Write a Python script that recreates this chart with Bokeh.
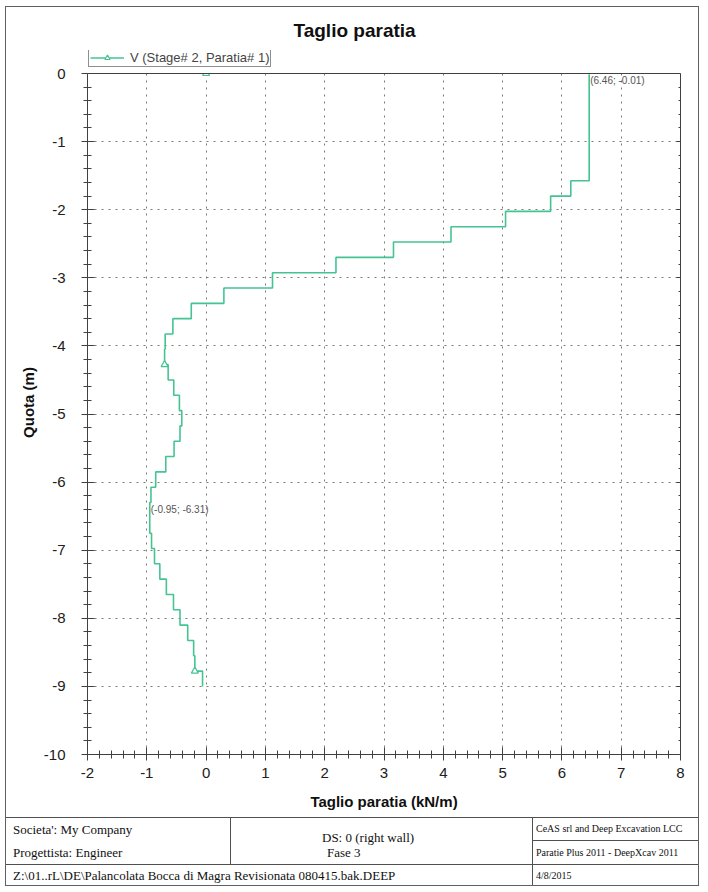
from bokeh.plotting import figure
from bokeh.layouts import column
from bokeh.models import (Range1d, LinearAxis, SingleIntervalTicker, Label,
                          Legend, LegendItem, PrintfTickFormatter, Div, Span,
                          BoxAnnotation)
from bokeh.embed import file_html
from bokeh.resources import INLINE

# ---------------- data ----------------
# depth boundaries of each constant-shear step (m)
quota_nodes = [-0.01, -1.575, -1.80, -2.025, -2.25, -2.475, -2.70, -2.925, -3.15,
               -3.375, -3.60, -3.825, -4.05, -4.275, -4.50, -4.725, -4.95, -5.175,
               -5.40, -5.625, -5.85, -6.075, -6.30, -6.525, -6.75, -6.975, -7.20,
               -7.425, -7.65, -7.875, -8.10, -8.325, -8.55, -8.775, -9.00]
# shear value in each step (kN/m)
taglio = [6.46, 6.15, 5.81, 5.05, 4.13, 3.16, 2.19, 1.12, 0.30,
          -0.25, -0.56, -0.69, -0.70, -0.64, -0.545, -0.45, -0.41, -0.44,
          -0.54, -0.68, -0.85, -0.93, -0.95, -0.95, -0.92, -0.87, -0.78,
          -0.67, -0.55, -0.44, -0.31, -0.21, -0.19, -0.06]
marker_taglio = [0.0, -0.70, -0.19]
marker_quota = [0.0, -4.275, -8.775]
min_label_quota = -6.31

x_ticks = list(range(-2, 9))
y_ticks = list(range(-10, 1))

title_text = "Taglio paratia"
x_label = "Taglio paratia (kN/m)"
y_label = "Quota (m)"
series_name = "V (Stage# 2, Paratia# 1)"

societa = "Societa': My Company"
progettista = "Progettista: Engineer"
ds_text = "DS: 0 (right wall)"
fase_text = "Fase 3"
ceas_text = "CeAS srl and Deep Excavation LCC"
paratie_text = "Paratie Plus 2011 - DeepXcav 2011"
path_text = "Z:\\01..rL\\DE\\Palancolata Bocca di Magra Revisionata 080415.bak.DEEP"
date_text = "4/8/2015"

SANS = "Liberation Sans"
SERIF = "Liberation Serif"
GREEN = "#45c493"
DARK = "#404040"

# ---------------- chart figure ----------------
# the frame is extended upward a little so that the legend can sit above y=0
AW, AH = 692, 810
MB_TOP, MB_BOT, MB_L, MB_R = 43, 63, 81, 18
PX_PER_M = 68.1
LEGEND_ROOM = 23  # px between the top of the frame and the y=0 edge
y_top = y_ticks[-1] + LEGEND_ROOM / PX_PER_M

p = figure(width=AW, height=AH, output_backend="svg", toolbar_location=None,
           x_range=Range1d(x_ticks[0], x_ticks[-1]), y_range=Range1d(y_ticks[0], y_top),
           min_border_left=MB_L, min_border_right=MB_R,
           min_border_top=MB_TOP, min_border_bottom=MB_BOT,
           x_axis_label=x_label, y_axis_label=y_label)
p.background_fill_color = "white"
p.border_fill_color = "white"
p.outline_line_color = None

def style_axis(ax, labels=True, tin=7, tout=6, min_in=4, min_out=4):
    ax.ticker = SingleIntervalTicker(interval=1, num_minor_ticks=5)
    ax.formatter = PrintfTickFormatter(format="%d")
    ax.axis_line_color = DARK
    ax.major_tick_line_color = DARK
    ax.minor_tick_line_color = DARK
    ax.major_tick_in = tin
    ax.major_tick_out = tout
    ax.minor_tick_in = min_in
    ax.minor_tick_out = min_out
    ax.major_label_text_font = SANS
    ax.major_label_text_font_size = "15px"
    ax.major_label_text_color = "#202020" if labels else None
    ax.axis_label_text_font = SANS
    ax.axis_label_text_font_size = "15px"
    ax.axis_label_text_font_style = "bold"
    ax.axis_label_text_color = "#101010"

xa = p.xaxis[0]
ya = p.yaxis[0]
style_axis(xa)
style_axis(ya)
ya.bounds = (y_ticks[0], y_ticks[-1])
xa.major_label_standoff = 7
xa.axis_label_standoff = 12
ya.major_label_standoff = 16
ya.axis_label_standoff = 4

right_ax = LinearAxis()
style_axis(right_ax, labels=False, tin=4, tout=0, min_in=2, min_out=0)
right_ax.major_label_text_font_size = "1px"
right_ax.major_label_standoff = 0
right_ax.bounds = (y_ticks[0], y_ticks[-1])
p.add_layout(right_ax, "right")

p.grid.grid_line_color = "#7a7a7a"
p.grid.grid_line_dash = "2 5"
p.grid.grid_line_width = 1
p.grid.ticker = SingleIntervalTicker(interval=1)
p.ygrid.bounds = (y_ticks[0], y_ticks[-1])

# ---------------- step curve ----------------
xs, ys = [], []
for v, top, bot in zip(taglio, quota_nodes[:-1], quota_nodes[1:]):
    xs += [v, v]
    ys += [top, bot]

line_r = p.line(xs, ys, line_color=GREEN, line_width=1.6)
mark_r = p.scatter(marker_taglio, marker_quota, marker="triangle", size=7,
                   line_color=GREEN, fill_color="white", line_width=1.2)

# white band above y=0 (legend room) and the top edge of the plot box
p.add_layout(BoxAnnotation(bottom=y_ticks[-1], fill_color="white", fill_alpha=1.0,
                           line_color=None))
p.add_layout(Span(location=y_ticks[-1], dimension="width", line_color=DARK, line_width=1))

legend = Legend(items=[LegendItem(label=series_name, renderers=[line_r, mark_r])],
                location=(1, (AH - MB_TOP - MB_BOT) - LEGEND_ROOM + 6),
                orientation="vertical",
                label_text_font=SANS, label_text_font_size="13px",
                label_height=13, glyph_height=13, glyph_width=34, label_standoff=6,
                padding=1, spacing=0, margin=0,
                border_line_color="#202020", border_line_width=1,
                background_fill_color="white", background_fill_alpha=1.0)
p.add_layout(legend, "center")

p.title.text = title_text
p.title.align = "left"
p.title.offset = 206
p.title.text_font = SANS
p.title.text_font_size = "19px"
p.title.text_font_style = "bold"
p.title.text_color = "#101010"
p.title.standoff = 19

# max / min annotations
i_max = max(range(len(taglio)), key=lambda i: taglio[i])
i_min = min(range(len(taglio)), key=lambda i: taglio[i])
p.add_layout(Label(x=taglio[i_max], y=quota_nodes[i_max],
                   text=f"({taglio[i_max]:.2f}; {quota_nodes[i_max]:.2f})",
                   x_offset=1, y_offset=-1, text_baseline="top", text_align="left",
                   text_font=SANS, text_font_size="10px", text_color="#555555"))
p.add_layout(Label(x=taglio[i_min], y=min_label_quota,
                   text=f"({taglio[i_min]:.2f}; {min_label_quota:.2f})",
                   x_offset=1, y_offset=-1, text_baseline="top", text_align="left",
                   text_font=SANS, text_font_size="10px", text_color="#555555"))

# ---------------- info table (HTML) ----------------
LINE = "#505050"

def hline(x, y, w):
    return (f'<div style="position:absolute;left:{x}px;top:{y}px;width:{w}px;'
            f'height:0;border-top:1px solid {LINE};"></div>')

def vline(x, y, h):
    return (f'<div style="position:absolute;left:{x}px;top:{y}px;width:0;'
            f'height:{h}px;border-left:1px solid {LINE};"></div>')

def cell_text(x, yc, s, size):
    return (f'<div style="position:absolute;left:{x}px;top:{yc - 8}px;height:16px;'
            f'line-height:16px;white-space:nowrap;font-family:\'{SERIF}\';'
            f'font-size:{size}px;color:#101010;">{s}</div>')

BW, BH = 692, 68
parts = [hline(0, 0, BW), vline(224, 0, 47), vline(526, 0, BH), hline(0, 47, BW),
         hline(526, 23, BW - 526)]
cells = [(7, 13, societa, 13), (7, 36, progettista, 13), (316, 21, ds_text, 13),
         (321, 36, fase_text, 13), (530, 12, ceas_text, 10), (530, 36, paratie_text, 10),
         (7, 59, path_text, 13), (530, 59, date_text, 10)]
for cx, cy, s, sz in cells:
    parts.append(cell_text(cx, cy, s, sz))
html = (f'<div style="position:relative;width:{BW}px;height:{BH}px;overflow:hidden;">'
        + "".join(parts) + "</div>")
table = Div(text=html, width=BW, height=BH, margin=0)

layout = column(p, table, spacing=0, margin=(6, 0, 0, 5),
                styles={"border": "1px solid #606060"})

open("out.html", "w").write(file_html(layout, INLINE))
